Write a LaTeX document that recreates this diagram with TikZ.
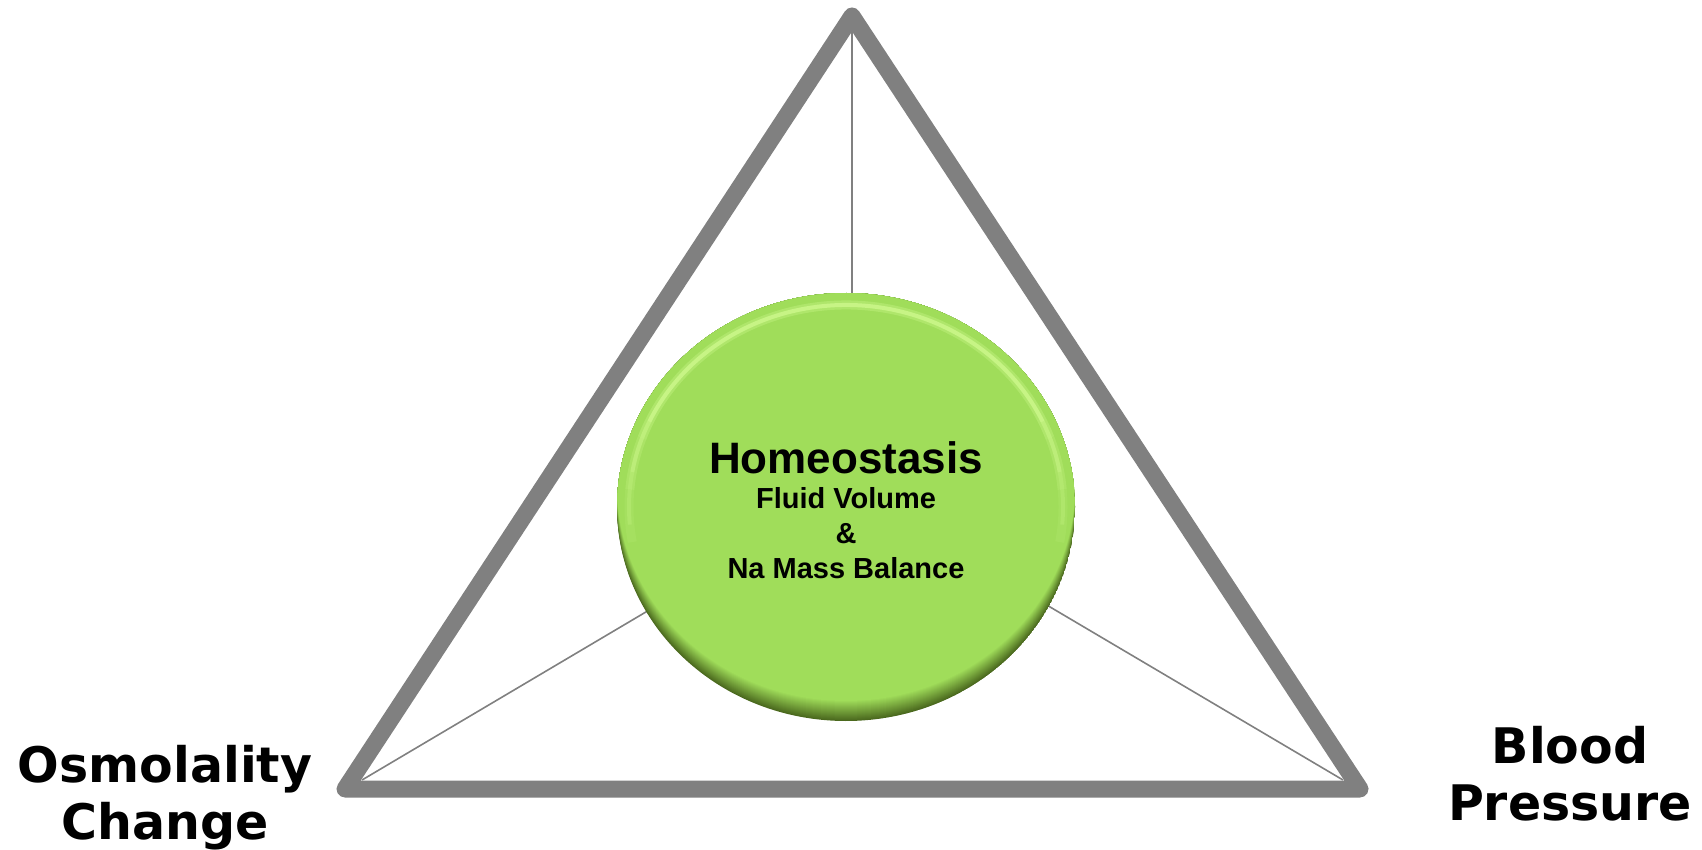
\documentclass[tikz,border=0pt]{standalone}
\usepackage{fontspec}
\usetikzlibrary{calc}
\setmainfont{Liberation Sans}
\newfontfamily\dejavub{DejaVu Sans}[BoldFont={DejaVu Sans Bold}]
\definecolor{trigray}{RGB}{128,128,128}
\definecolor{thingray}{RGB}{128,128,128}
\definecolor{grnmain}{RGB}{160,221,90}
\definecolor{grnlight}{RGB}{205,248,140}
\definecolor{grndark}{RGB}{75,105,30}
\begin{document}
\begin{tikzpicture}[x=1pt,y=-1pt,
  thick tri/.style={draw=trigray,line width=17pt,line join=round,line cap=round},
  thin line/.style={draw=thingray,line width=1.6pt},
  corner label/.style={font=\dejavub\bfseries\fontsize{49}{57}\selectfont,align=center,inner sep=0pt,anchor=north},
  center label/.style={font=\bfseries\fontsize{29}{35}\selectfont,align=center,inner sep=0pt,anchor=north},
  hilite/.style={grnlight, line cap=butt}]
\useasboundingbox (0,0) rectangle (1702,850);
% triangle vertices
\coordinate (top) at (852,16);
\coordinate (bl) at (345,789);
\coordinate (br) at (1360,789);
% inner corners
\coordinate (topin) at (852,31);
\coordinate (blin) at (362,780);
\coordinate (brin) at (1343,780);
\coordinate (meet) at (852,490);
% thin lines
\draw[thin line] (topin) -- (meet);
\draw[thin line] (blin) -- (meet);
\draw[thin line] (brin) -- (meet);
% thick triangle
\draw[thick tri] (top) -- (br) -- (bl) -- cycle;
% circle with bevel
\coordinate (cc) at (846,507);
\begin{scope}
  \clip (cc) ellipse [x radius=229, y radius=214];
  \foreach \i in {0,...,20} {
    \pgfmathsetmacro\t{\i*5}
    \fill[grnmain!\t!grndark] ($(cc)+(0,-\i)$) ellipse [x radius=229, y radius=214];
  }
  \foreach \a/\b/\o in {170/185/0.12, 185/200/0.25, 200/340/0.35, 340/355/0.25, 355/370/0.12} {
    \draw[hilite, line width=9pt, opacity=\o]
      (cc) ++({217*cos(\a)},{202*sin(\a)}) arc[start angle=\a, end angle=\b, x radius=217, y radius=202];
  }
  \foreach \a/\b/\o in {175/190/0.25, 190/205/0.5, 205/335/0.8, 335/350/0.5, 350/365/0.25} {
    \draw[hilite, line width=4pt, opacity=\o]
      (cc) ++({217*cos(\a)},{202*sin(\a)}) arc[start angle=\a, end angle=\b, x radius=217, y radius=202];
  }
\end{scope}
\node[center label] (hom) at (846,441) {{\fontsize{44}{44}\selectfont Homeostasis}\\Fluid Volume\\\&\\Na Mass Balance};
% labels
\node[corner label] (osm) at (165,745) {Osmolality\\Change};
\node[corner label] (bp) at (1570,726) {Blood\\Pressure};
\end{tikzpicture}
\end{document}
